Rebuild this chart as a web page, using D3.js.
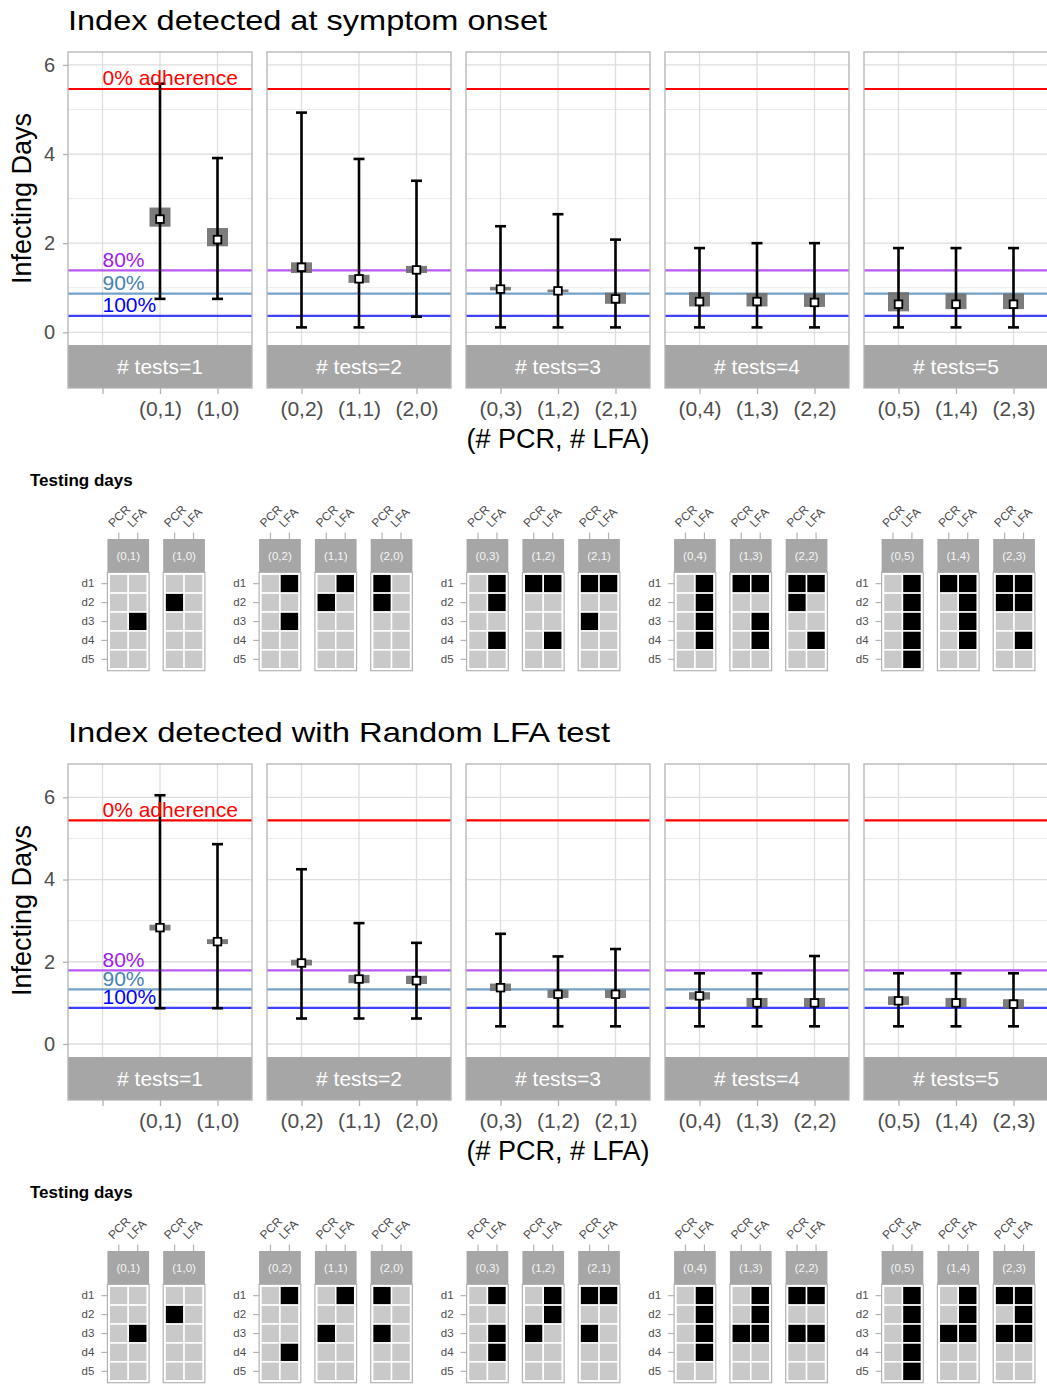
<!DOCTYPE html>
<html><head><meta charset="utf-8">
<script src="https://cdn.jsdelivr.net/npm/d3@7"></script>
<style>
body{margin:0;background:#fff}
svg{display:block;font-family:"Liberation Sans",Arial,Helvetica,sans-serif}
</style>
</head><body>
<svg id="c" width="1047" height="1384"></svg>
<script>
// ---------------- DATA ----------------
const groupLabels = ["# tests=1", "# tests=2", "# tests=3", "# tests=4", "# tests=5"];
const groupCats = [
  ["", "(0,1)", "(1,0)"],
  ["(0,2)", "(1,1)", "(2,0)"],
  ["(0,3)", "(1,2)", "(2,1)"],
  ["(0,4)", "(1,3)", "(2,2)"],
  ["(0,5)", "(1,4)", "(2,3)"]
];
const categories = ["(0,1)","(1,0)","(0,2)","(1,1)","(2,0)","(0,3)","(1,2)","(2,1)","(0,4)","(1,3)","(2,2)","(0,5)","(1,4)","(2,3)"];
const yTickValues = [0, 2, 4, 6];
const yMinorValues = [1, 3, 5];
const testTypes = ["PCR", "LFA"];
const days = ["d1", "d2", "d3", "d4", "d5"];
const adherenceLabels = ["0% adherence", "80%", "90%", "100%"];
const adherenceColors = ["#ff0000", "#a020f0", "#4682b4", "#0000ff"];
const xAxisTitle = "(# PCR, # LFA)";
const yAxisTitle = "Infecting Days";
const gridTitle = "Testing days";

// Scenario 1: symptom onset
const onsetTitle = "Index detected at symptom onset";
const onsetMean    = [2.54, 2.08, 1.46, 1.20, 1.40, 0.97, 0.93, 0.75, 0.69, 0.69, 0.67, 0.63, 0.63, 0.63];
const onsetLow     = [0.75, 0.75, 0.11, 0.11, 0.35, 0.11, 0.11, 0.11, 0.11, 0.11, 0.11, 0.11, 0.11, 0.11];
const onsetHigh    = [5.58, 3.91, 4.93, 3.89, 3.40, 2.38, 2.65, 2.08, 1.89, 2.00, 2.00, 1.89, 1.89, 1.89];
const onsetBoxLow  = [2.37, 1.93, 1.33, 1.11, 1.33, 0.94, 0.90, 0.64, 0.58, 0.58, 0.57, 0.47, 0.52, 0.52];
const onsetBoxHigh = [2.80, 2.34, 1.57, 1.29, 1.49, 1.02, 0.96, 0.89, 0.90, 0.88, 0.87, 0.90, 0.87, 0.87];
const onsetAdherence = [5.46, 1.39, 0.87, 0.37];
const onsetSchedule = [
  ["(0,1)","LFA","d3"],
  ["(1,0)","PCR","d2"],
  ["(0,2)","LFA","d1"],["(0,2)","LFA","d3"],
  ["(1,1)","LFA","d1"],["(1,1)","PCR","d2"],
  ["(2,0)","PCR","d1"],["(2,0)","PCR","d2"],
  ["(0,3)","LFA","d1"],["(0,3)","LFA","d2"],["(0,3)","LFA","d4"],
  ["(1,2)","PCR","d1"],["(1,2)","LFA","d1"],["(1,2)","LFA","d4"],
  ["(2,1)","PCR","d1"],["(2,1)","LFA","d1"],["(2,1)","PCR","d3"],
  ["(0,4)","LFA","d1"],["(0,4)","LFA","d2"],["(0,4)","LFA","d3"],["(0,4)","LFA","d4"],
  ["(1,3)","PCR","d1"],["(1,3)","LFA","d1"],["(1,3)","LFA","d3"],["(1,3)","LFA","d4"],
  ["(2,2)","PCR","d1"],["(2,2)","LFA","d1"],["(2,2)","PCR","d2"],["(2,2)","LFA","d4"],
  ["(0,5)","LFA","d1"],["(0,5)","LFA","d2"],["(0,5)","LFA","d3"],["(0,5)","LFA","d4"],["(0,5)","LFA","d5"],
  ["(1,4)","PCR","d1"],["(1,4)","LFA","d1"],["(1,4)","LFA","d2"],["(1,4)","LFA","d3"],["(1,4)","LFA","d4"],
  ["(2,3)","PCR","d1"],["(2,3)","LFA","d1"],["(2,3)","PCR","d2"],["(2,3)","LFA","d2"],["(2,3)","LFA","d4"]
];

// Scenario 2: random LFA test
const randomTitle = "Index detected with Random LFA test";
const randomMean    = [2.83, 2.49, 1.97, 1.58, 1.54, 1.37, 1.21, 1.21, 1.17, 1.00, 1.00, 1.05, 1.00, 0.97];
const randomLow     = [0.87, 0.87, 0.62, 0.62, 0.62, 0.43, 0.43, 0.43, 0.43, 0.43, 0.43, 0.43, 0.43, 0.43];
const randomHigh    = [6.05, 4.86, 4.25, 2.94, 2.46, 2.68, 2.13, 2.31, 1.72, 1.72, 2.14, 1.72, 1.72, 1.72];
const randomBoxLow  = [2.76, 2.43, 1.91, 1.48, 1.46, 1.29, 1.12, 1.12, 1.08, 0.90, 0.90, 0.95, 0.90, 0.86];
const randomBoxHigh = [2.90, 2.55, 2.05, 1.68, 1.66, 1.47, 1.32, 1.32, 1.26, 1.12, 1.12, 1.16, 1.12, 1.09];
const randomAdherence = [5.44, 1.79, 1.33, 0.88];
const randomSchedule = [
  ["(0,1)","LFA","d3"],
  ["(1,0)","PCR","d2"],
  ["(0,2)","LFA","d1"],["(0,2)","LFA","d4"],
  ["(1,1)","LFA","d1"],["(1,1)","PCR","d3"],
  ["(2,0)","PCR","d1"],["(2,0)","PCR","d3"],
  ["(0,3)","LFA","d1"],["(0,3)","LFA","d3"],["(0,3)","LFA","d4"],
  ["(1,2)","LFA","d1"],["(1,2)","LFA","d2"],["(1,2)","PCR","d3"],
  ["(2,1)","PCR","d1"],["(2,1)","LFA","d1"],["(2,1)","PCR","d3"],
  ["(0,4)","LFA","d1"],["(0,4)","LFA","d2"],["(0,4)","LFA","d3"],["(0,4)","LFA","d4"],
  ["(1,3)","LFA","d1"],["(1,3)","LFA","d2"],["(1,3)","PCR","d3"],["(1,3)","LFA","d3"],
  ["(2,2)","PCR","d1"],["(2,2)","LFA","d1"],["(2,2)","PCR","d3"],["(2,2)","LFA","d3"],
  ["(0,5)","LFA","d1"],["(0,5)","LFA","d2"],["(0,5)","LFA","d3"],["(0,5)","LFA","d4"],["(0,5)","LFA","d5"],
  ["(1,4)","LFA","d1"],["(1,4)","LFA","d2"],["(1,4)","PCR","d3"],["(1,4)","LFA","d3"],
  ["(2,3)","PCR","d1"],["(2,3)","LFA","d1"],["(2,3)","LFA","d2"],["(2,3)","PCR","d3"],["(2,3)","LFA","d3"]
];

// ---------------- LAYOUT ----------------
const L = {
  titleX: 68, titleY: 30,
  panelLeft: 68, panelStep: 199, panelW: 184,
  panelTop: 52, panelBottom: 345, stripBottom: 388,
  gridTitleX: 30, gridTitleY: 486,
  gridStripTop: 539, gridStripH: 33.3, gridPanelH: 98.4,
  gridX0: 51.6, gridGroupStep: 207.5, gridFacetStep: 55.8, gridFacetW: 41.7
};
const textGray = "#4d4d4d";
const borderGray = "#b3b3b3";
const stripGray = "#a6a6a6";

const svg = d3.select("#c");

function drawBlock(oy, sc) {
  const g = svg.append("g").attr("transform", `translate(0,${oy})`);
  g.append("text").attr("x", L.titleX).attr("y", L.titleY)
    .attr("font-size", 28).attr("fill", "#000")
    .attr("textLength", sc.titleWidth).attr("lengthAdjust", "spacingAndGlyphs")
    .text(sc.title);

  const y = d3.scaleLinear().domain(sc.yDomain).range([L.panelBottom, L.panelTop]);

  const rows = categories.map((c, i) => ({
    cat: c, mean: sc.mean[i], low: sc.low[i], high: sc.high[i],
    boxLow: sc.boxLow[i], boxHigh: sc.boxHigh[i]
  }));

  groupCats.forEach((cats, gi) => {
    const px = L.panelLeft + L.panelStep * gi;
    const x = d3.scalePoint().domain(cats).range([px, px + L.panelW]).padding(0.6);
    const pg = g.append("g");

    pg.append("rect").attr("x", px).attr("y", L.panelTop).attr("width", L.panelW)
      .attr("height", L.panelBottom - L.panelTop).attr("fill", "#fff");
    pg.selectAll(".mn").data(yMinorValues).join("line")
      .attr("x1", px).attr("x2", px + L.panelW)
      .attr("y1", d => y(d)).attr("y2", d => y(d))
      .attr("stroke", "#ebebeb").attr("stroke-width", 1);
    pg.selectAll(".mj").data(yTickValues).join("line")
      .attr("x1", px).attr("x2", px + L.panelW)
      .attr("y1", d => y(d)).attr("y2", d => y(d))
      .attr("stroke", "#dedede").attr("stroke-width", 1.3);
    pg.selectAll(".vx").data(cats).join("line")
      .attr("x1", d => x(d)).attr("x2", d => x(d))
      .attr("y1", L.panelTop).attr("y2", L.panelBottom)
      .attr("stroke", "#dedede").attr("stroke-width", 1.3);

    pg.selectAll(".ad").data(sc.adherence).join("line")
      .attr("x1", px).attr("x2", px + L.panelW)
      .attr("y1", d => y(d)).attr("y2", d => y(d))
      .attr("stroke", (d, i) => adherenceColors[i])
      .attr("stroke-opacity", (d, i) => i === 0 ? 1 : 0.75)
      .attr("stroke-width", 2.2);

    const gr = rows.filter(r => cats.includes(r.cat));
    pg.selectAll(".bx").data(gr).join("rect")
      .attr("x", d => x(d.cat) - 10.5).attr("width", 21)
      .attr("y", d => y(d.boxHigh))
      .attr("height", d => Math.max(2.5, y(d.boxLow) - y(d.boxHigh)))
      .attr("fill", "#6e6e6e").attr("fill-opacity", 0.9);
    pg.selectAll(".eb").data(gr).join("line")
      .attr("x1", d => x(d.cat)).attr("x2", d => x(d.cat))
      .attr("y1", d => y(d.low)).attr("y2", d => y(d.high))
      .attr("stroke", "#000").attr("stroke-width", 2.6);
    pg.selectAll(".ct").data(gr).join("line")
      .attr("x1", d => x(d.cat) - 5.5).attr("x2", d => x(d.cat) + 5.5)
      .attr("y1", d => y(d.high)).attr("y2", d => y(d.high))
      .attr("stroke", "#000").attr("stroke-width", 2.6);
    pg.selectAll(".cb").data(gr).join("line")
      .attr("x1", d => x(d.cat) - 5.5).attr("x2", d => x(d.cat) + 5.5)
      .attr("y1", d => y(d.low)).attr("y2", d => y(d.low))
      .attr("stroke", "#000").attr("stroke-width", 2.6);
    pg.selectAll(".mq").data(gr).join("rect")
      .attr("x", d => x(d.cat) - 3.8).attr("y", d => y(d.mean) - 3.8)
      .attr("width", 7.6).attr("height", 7.6)
      .attr("fill", "#fff").attr("stroke", "#000").attr("stroke-width", 1.8);

    pg.append("rect").attr("x", px).attr("y", L.panelBottom).attr("width", L.panelW)
      .attr("height", L.stripBottom - L.panelBottom).attr("fill", stripGray);
    pg.append("text").attr("x", px + L.panelW / 2).attr("y", (L.panelBottom + L.stripBottom) / 2)
      .attr("dy", "0.36em").attr("text-anchor", "middle").attr("font-size", 21)
      .attr("fill", "#fff").text(groupLabels[gi]);
    pg.append("rect").attr("x", px).attr("y", L.panelTop).attr("width", L.panelW)
      .attr("height", L.stripBottom - L.panelTop).attr("fill", "none")
      .attr("stroke", borderGray).attr("stroke-width", 1.3);

    const xa = pg.append("g").attr("transform", `translate(0,${L.stripBottom})`)
      .call(d3.axisBottom(x).tickSize(6).tickPadding(7));
    xa.select(".domain").remove();
    xa.selectAll("line").attr("stroke", borderGray).attr("stroke-width", 1.3);
    xa.selectAll("text").attr("font-size", 21).attr("fill", textGray)
      .attr("font-family", "Liberation Sans, Arial, sans-serif");

    if (gi === 0) {
      const ya = pg.append("g").attr("transform", `translate(${px},0)`)
        .call(d3.axisLeft(y).tickValues(yTickValues).tickFormat(d3.format("d")).tickSize(5).tickPadding(8));
      ya.select(".domain").remove();
      ya.selectAll("line").attr("stroke", borderGray).attr("stroke-width", 1.3);
      ya.selectAll("text").attr("font-size", 20).attr("fill", textGray)
        .attr("font-family", "Liberation Sans, Arial, sans-serif");
      pg.selectAll(".al").data(sc.adherence).join("text")
        .attr("x", x(cats[0])).attr("y", d => y(d) - 3.5)
        .attr("font-size", 21).attr("fill", (d, i) => adherenceColors[i])
        .text((d, i) => adherenceLabels[i]);
    }
  });

  g.append("text").attr("transform", `translate(31,${(L.panelTop + L.panelBottom) / 2}) rotate(-90)`)
    .attr("text-anchor", "middle").attr("font-size", 27).attr("fill", "#000").text(yAxisTitle);
  const xmid = (L.panelLeft + L.panelLeft + L.panelStep * 4 + L.panelW) / 2;
  g.append("text").attr("x", xmid).attr("y", 448).attr("text-anchor", "middle")
    .attr("font-size", 27).attr("fill", "#000").text(xAxisTitle);

  // ---------- testing-days grids ----------
  g.append("text").attr("x", L.gridTitleX).attr("y", L.gridTitleY)
    .attr("font-size", 17).attr("font-weight", "bold").attr("fill", "#000").text(gridTitle);

  const on = new Set(sc.schedule.map(s => s.join("|")));
  const gp = L.gridStripTop + L.gridStripH;
  groupCats.forEach((cats, gi) => {
    let firstDrawn = true;
    cats.forEach((cat, j) => {
      if (cat === "") return;
      const fx = L.gridX0 + L.gridGroupStep * gi + L.gridFacetStep * j;
      const xg = d3.scaleBand().domain(testTypes).range([fx, fx + L.gridFacetW]).paddingOuter(0.1).paddingInner(0);
      const yg = d3.scaleBand().domain(days).range([gp, gp + L.gridPanelH]).paddingOuter(0.1).paddingInner(0);
      const fg = g.append("g");
      fg.append("rect").attr("x", fx).attr("y", gp).attr("width", L.gridFacetW)
        .attr("height", L.gridPanelH).attr("fill", "#fff");
      const cells = [];
      days.forEach(dd => testTypes.forEach(tt => cells.push({ tt, dd, on: on.has([cat, tt, dd].join("|")) })));
      fg.selectAll(".tile").data(cells).join("rect")
        .attr("x", d => xg(d.tt)).attr("y", d => yg(d.dd))
        .attr("width", xg.bandwidth()).attr("height", yg.bandwidth())
        .attr("fill", d => d.on ? "#000" : "#c9c9c9")
        .attr("stroke", "#fff").attr("stroke-width", 1.5);
      fg.append("rect").attr("x", fx).attr("y", gp).attr("width", L.gridFacetW)
        .attr("height", L.gridPanelH).attr("fill", "none")
        .attr("stroke", borderGray).attr("stroke-width", 1.2);
      fg.append("rect").attr("x", fx).attr("y", L.gridStripTop).attr("width", L.gridFacetW)
        .attr("height", L.gridStripH).attr("fill", stripGray);
      fg.append("text").attr("x", fx + L.gridFacetW / 2).attr("y", L.gridStripTop + L.gridStripH / 2)
        .attr("dy", "0.36em").attr("text-anchor", "middle").attr("font-size", 11.5)
        .attr("fill", "#f5f5f5").text(cat);
      const xa = fg.append("g").attr("transform", `translate(0,${L.gridStripTop})`)
        .call(d3.axisTop(xg).tickSize(6.5));
      xa.select(".domain").remove();
      xa.selectAll("line").attr("stroke", borderGray).attr("stroke-width", 1.2);
      xa.selectAll("text").attr("x", 0).attr("y", 0).attr("dy", 0)
        .attr("text-anchor", "start").attr("transform", "translate(-5.6,-11) rotate(-45)")
        .attr("font-size", 12).attr("fill", textGray)
        .attr("font-family", "Liberation Sans, Arial, sans-serif");
      if (firstDrawn) {
        const ya = fg.append("g").attr("transform", `translate(${fx},0)`)
          .call(d3.axisLeft(yg).tickSize(6).tickPadding(7));
        ya.select(".domain").remove();
        ya.selectAll("line").attr("stroke", borderGray).attr("stroke-width", 1.2);
        ya.selectAll("text").attr("font-size", 11.5).attr("fill", textGray)
          .attr("font-family", "Liberation Sans, Arial, sans-serif");
        firstDrawn = false;
      }
    });
  });
}

drawBlock(0, {
  title: onsetTitle, titleWidth: 479, mean: onsetMean, low: onsetLow, high: onsetHigh,
  boxLow: onsetBoxLow, boxHigh: onsetBoxHigh, adherence: onsetAdherence,
  schedule: onsetSchedule, yDomain: [-0.285, 6.29]
});
drawBlock(712, {
  title: randomTitle, titleWidth: 542, mean: randomMean, low: randomLow, high: randomHigh,
  boxLow: randomBoxLow, boxHigh: randomBoxHigh, adherence: randomAdherence,
  schedule: randomSchedule, yDomain: [-0.316, 6.81]
});
</script>
</body></html>
